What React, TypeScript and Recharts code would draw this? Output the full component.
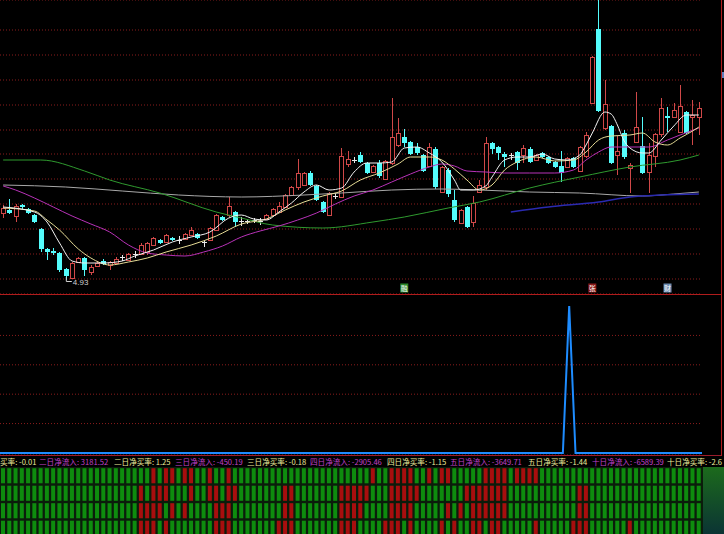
import { ComposedChart, BarChart, Bar, Line, XAxis, YAxis, CartesianGrid, ReferenceDot } from 'recharts';

// daily candles, index 0..111
const opens = [5.60, 5.63, 5.57, 5.68, 5.64, 5.58, 5.44, 5.24, 5.22, 5.20, 5.04, 4.95, 5.11, 5.15, 5.01, 5.07, 5.12, 5.08, 5.10, 5.16,
  5.13, 5.19, 5.19, 5.21, 5.28, 5.33, 5.31, 5.35, 5.33, 5.34, 5.38, 5.39, 5.31, 5.33, 5.43, 5.56, 5.58, 5.61, 5.52, 5.52,
  5.53, 5.52, 5.54, 5.58, 5.61, 5.66, 5.78, 5.86, 5.88, 6.00, 5.87, 5.71, 5.58, 5.77, 5.76, 6.09, 6.13, 6.18, 6.10, 6.01,
  6.10, 5.94, 6.10, 6.28, 6.36, 6.31, 6.26, 6.18, 6.07, 6.24, 5.81, 6.03, 5.73, 5.50, 5.66, 5.51, 5.81, 5.86, 6.30, 6.26,
  6.19, 6.18, 6.21, 6.18, 6.24, 6.13, 6.20, 6.16, 6.11, 6.07, 6.06, 6.15, 6.02, 6.17, 6.70, 7.44, 6.45, 6.47, 6.18, 6.40,
  6.05, 6.31, 6.27, 6.01, 6.17, 6.39, 6.57, 6.56, 6.41, 6.61, 6.56, 6.56];
const closes = [5.65, 5.60, 5.67, 5.66, 5.60, 5.51, 5.24, 5.21, 5.20, 5.03, 4.97, 5.10, 5.15, 5.03, 5.06, 5.10, 5.09, 5.11, 5.14, 5.16,
  5.19, 5.19, 5.28, 5.30, 5.35, 5.30, 5.38, 5.33, 5.33, 5.39, 5.43, 5.35, 5.31, 5.45, 5.58, 5.53, 5.67, 5.51, 5.52, 5.52,
  5.53, 5.52, 5.58, 5.64, 5.67, 5.78, 5.86, 6.00, 6.00, 5.88, 5.73, 5.61, 5.80, 5.77, 6.17, 6.14, 6.13, 6.11, 6.00, 6.07,
  5.97, 6.12, 6.36, 6.40, 6.30, 6.19, 6.20, 6.02, 6.26, 5.86, 6.06, 5.79, 5.53, 5.63, 5.46, 5.70, 5.88, 6.30, 6.24, 6.20,
  6.16, 6.18, 6.10, 6.25, 6.11, 6.18, 6.16, 6.10, 6.06, 6.00, 6.15, 6.06, 6.26, 6.38, 7.16, 6.62, 6.69, 6.10, 6.22, 6.16,
  6.08, 6.46, 6.00, 6.18, 6.39, 6.65, 6.55, 6.63, 6.67, 6.40, 6.58, 6.65];
const highs = [5.68, 5.74, 5.69, 5.69, 5.65, 5.59, 5.45, 5.25, 5.25, 5.21, 5.05, 5.11, 5.16, 5.16, 5.08, 5.12, 5.14, 5.12, 5.16, 5.18,
  5.20, 5.22, 5.30, 5.31, 5.36, 5.34, 5.39, 5.36, 5.37, 5.40, 5.46, 5.40, 5.33, 5.46, 5.59, 5.57, 5.76, 5.62, 5.56, 5.54,
  5.55, 5.55, 5.59, 5.65, 5.71, 5.79, 5.87, 6.14, 6.01, 6.02, 5.88, 5.72, 5.81, 5.80, 6.25, 6.22, 6.16, 6.21, 6.11, 6.08,
  6.13, 6.13, 6.75, 6.55, 6.44, 6.32, 6.30, 6.19, 6.30, 6.26, 6.07, 6.05, 5.83, 5.64, 5.67, 5.77, 5.93, 6.36, 6.31, 6.27,
  6.21, 6.20, 6.22, 6.28, 6.26, 6.19, 6.21, 6.17, 6.12, 6.22, 6.16, 6.16, 6.27, 6.41, 7.17, 7.73, 6.93, 6.48, 6.37, 6.43,
  6.10, 6.81, 6.56, 6.30, 6.40, 6.75, 6.66, 6.70, 6.88, 6.62, 6.73, 6.71];
const lows = [5.55, 5.59, 5.51, 5.64, 5.59, 5.50, 5.21, 5.13, 5.18, 5.01, 4.93, 4.94, 5.10, 4.97, 4.98, 5.06, 5.08, 5.03, 5.09, 5.12,
  5.12, 5.15, 5.18, 5.18, 5.27, 5.29, 5.30, 5.32, 5.29, 5.33, 5.37, 5.34, 5.26, 5.32, 5.42, 5.52, 5.56, 5.46, 5.47, 5.49,
  5.50, 5.48, 5.53, 5.57, 5.60, 5.65, 5.77, 5.83, 5.87, 5.87, 5.72, 5.60, 5.57, 5.74, 5.75, 6.06, 6.10, 6.10, 5.99, 6.00,
  5.95, 5.93, 6.08, 6.26, 6.26, 6.18, 6.18, 6.01, 6.06, 5.84, 5.80, 5.76, 5.51, 5.49, 5.45, 5.46, 5.80, 5.83, 6.19, 6.13,
  6.06, 6.13, 6.03, 6.10, 6.10, 6.12, 6.15, 6.09, 6.05, 5.91, 6.05, 6.05, 6.01, 6.15, 6.69, 6.61, 6.43, 6.09, 5.98, 6.14,
  5.80, 6.30, 5.99, 5.80, 6.06, 6.36, 6.41, 6.55, 6.40, 6.39, 6.28, 6.38];

// moving averages: [day index, price]
const ma5: [number, number][] = [[0, 5.66], [5, 5.61], [7, 5.51], [9, 5.30], [11, 5.12], [13, 5.10], [16, 5.10], [19, 5.12], [21, 5.17],
  [24, 5.23], [27, 5.31], [30, 5.36], [33, 5.41], [36, 5.55], [38, 5.58], [40, 5.54], [42, 5.53], [44, 5.61], [46, 5.70], [48, 5.81],
  [50, 5.88], [52, 5.83], [54, 5.85], [56, 6.01], [58, 6.10], [60, 6.10], [62, 6.11], [64, 6.25], [66, 6.26], [68, 6.20], [70, 6.11],
  [72, 5.93], [73, 5.83], [75, 5.83], [77, 5.87], [78, 5.96], [80, 6.13], [82, 6.16], [84, 6.16], [86, 6.19], [88, 6.14], [90, 6.13],
  [92, 6.18], [93, 6.28], [94, 6.40], [96, 6.61], [97, 6.59], [98, 6.48], [99, 6.33], [100, 6.25], [102, 6.20], [103, 6.20],
  [105, 6.33], [107, 6.47], [109, 6.58], [111, 6.58]];
const ma10: [number, number][] = [[0, 5.65], [5, 5.62], [7, 5.53], [9, 5.43], [12, 5.24], [14, 5.15], [17, 5.08], [20, 5.11], [23, 5.15],
  [26, 5.21], [30, 5.28], [34, 5.37], [38, 5.49], [42, 5.54], [45, 5.63], [48, 5.71], [51, 5.77], [54, 5.82], [57, 5.93], [60, 6.00],
  [63, 6.09], [65, 6.16], [68, 6.16], [70, 6.13], [72, 6.04], [74, 5.93], [76, 5.83], [78, 5.88], [80, 6.03], [82, 6.11], [85, 6.16],
  [88, 6.12], [91, 6.13], [93, 6.21], [95, 6.33], [97, 6.37], [100, 6.38], [102, 6.40], [104, 6.31], [106, 6.28], [108, 6.35],
  [110, 6.42], [111, 6.46]];
const ma30: [number, number][] = [[0, 5.87], [2, 5.83], [5, 5.75], [8, 5.66], [11, 5.57], [14, 5.49], [17, 5.41], [20, 5.28], [23, 5.20],
  [26, 5.18], [29, 5.17], [32, 5.21], [35, 5.27], [38, 5.36], [41, 5.42], [44, 5.47], [47, 5.53], [50, 5.60], [53, 5.69], [56, 5.77],
  [59, 5.83], [62, 5.91], [65, 5.99], [68, 6.06], [70, 6.09], [72, 6.07], [74, 6.02], [77, 6.01], [80, 6.00], [84, 6.00], [88, 6.00],
  [91, 6.03], [93, 6.13], [95, 6.21], [97, 6.26], [100, 6.26], [103, 6.26], [106, 6.33], [108, 6.38], [111, 6.45]];
const ma60: [number, number][] = [[0, 6.13], [6, 6.13], [13, 6.02], [17, 5.93], [25, 5.80], [34, 5.61], [38, 5.55], [43, 5.48], [51, 5.45],
  [59, 5.51], [64, 5.56], [71, 5.65], [76, 5.71], [84, 5.85], [92, 5.96], [100, 6.06], [108, 6.13], [111, 6.18]];
const ma120: [number, number][] = [[0, 5.88], [10, 5.86], [19, 5.82], [28, 5.78], [38, 5.76], [48, 5.78], [54, 5.80], [62, 5.83], [70, 5.84],
  [76, 5.83], [84, 5.81], [92, 5.80], [102, 5.77], [107, 5.79], [111, 5.81]];
const ma250: [number, number][] = [[81, 5.61], [87, 5.66], [95, 5.71], [100, 5.76], [105, 5.78], [111, 5.79]];

const priceGridTicks = [4.94, 5.19, 5.44, 5.69, 5.94, 6.19, 6.43, 6.68, 6.93, 7.18, 7.43];
const lowMark = { day: 10, price: 4.93 };
const tagDays = [64, 94, 106];
const tagTexts = ['融', '张', '财'];

// lower panel: zero except the single spike
const spike: [number, number][] = [[90, 100]];
const lowerTicks = [20, 40, 60, 80];

// bottom strip: days shown red in each of the four rows
const row1Red = [24, 26, 27, 29, 30, 33, 36, 59, 62, 63, 64, 65, 68, 70, 71, 77, 78, 79, 80, 82, 83, 84, 85];
const row2Red = [22, 24, 25, 26, 30, 33, 34, 36, 37, 45, 46, 54, 55, 56, 57, 58, 62, 63, 64, 65, 66, 74, 75, 76, 77, 78, 79, 80, 92, 93];
const row3Red = [22, 23, 24, 25, 27, 29, 34, 35, 36, 45, 46, 54, 55, 56, 57, 62, 63, 64, 65, 71, 73, 75, 76, 77, 78, 79, 80, 92, 93];
const row4Red = [22, 23, 24, 26, 34, 35, 36, 44, 45, 46, 54, 55, 56, 61, 62, 63, 65, 70, 72, 75, 76, 78, 79, 85, 91, 92, 93, 100];

const flowTexts = ['买率: -0.01', '二日净流入: 3181.52', '二日净买率: 1.25', '三日净流入: -450.19', '三日净买率: -0.18',
  '四日净流入: -2905.46', '四日净买率: -1.15', '五日净流入: -3649.71', '五日净买率: -1.44', '十日净流入: -6589.39', '十日净买率: -2.6'];

const textLeft = [0, 39, 114, 175, 247, 310, 387, 450, 528, 592, 667];
const RED = '#d04848';
const CYAN = '#54fcfc';
const GRID = '#8a1c1c';

const n = opens.length;
const toRows = (pts: [number, number][]) => pts.map(([i, v]) => ({ i, v }));

const priceData = opens.map((open, i) => ({ i, open, close: closes[i], high: highs[i], low: lows[i] }));

const spikeMap = new Map(spike);
const lowerData = opens.map((_, i) => ({ i, v: spikeMap.get(i) ?? 0 }));

const stripData = opens.map((_, i) => ({
  i, r1: 1, r2: 1, r3: 1, r4: 1,
  c1: row1Red.includes(i), c2: row2Red.includes(i), c3: row3Red.includes(i), c4: row4Red.includes(i),
}));

const maLines = [
  { key: 'ma120', pts: ma120, color: '#a8a8a8', w: 1 },
  { key: 'ma250', pts: ma250, color: '#2a2ab0', w: 1.5 },
  { key: 'ma60', pts: ma60, color: '#2f9a2f', w: 1 },
  { key: 'ma30', pts: ma30, color: '#b832b8', w: 1 },
  { key: 'ma10', pts: ma10, color: '#e6dc96', w: 1 },
  { key: 'ma5', pts: ma5, color: '#f2f2f2', w: 1 },
];

function Candle(props: any) {
  const { x, y, width, height, payload } = props;
  const { open, close, high, low } = payload;
  const top0 = Math.min(y, y + height);
  const h = Math.abs(height);
  const toY = (v: number) => top0 + ((high - v) / (high - low)) * h;
  const cx = Math.floor(x + width / 2) + 0.5;
  const left = Math.round(x);
  const w = Math.round(width);
  const bTop = toY(Math.max(open, close));
  const bBot = toY(Math.min(open, close));
  if (close > open) {
    return (
      <g>
        <line x1={cx} x2={cx} y1={toY(high)} y2={bTop} stroke={RED} />
        <line x1={cx} x2={cx} y1={bBot} y2={toY(low)} stroke={RED} />
        <rect x={left + 0.5} y={Math.round(bTop) + 0.5} width={w - 1} height={Math.max(Math.round(bBot - bTop), 1)} fill="#000" stroke={RED} />
      </g>
    );
  }
  if (close < open) {
    return (
      <g>
        <line x1={cx} x2={cx} y1={toY(high)} y2={toY(low)} stroke={CYAN} />
        <rect x={left} y={bTop} width={w} height={Math.max(bBot - bTop, 1)} fill={CYAN} />
      </g>
    );
  }
  return (
    <g>
      <line x1={cx} x2={cx} y1={toY(high)} y2={toY(low)} stroke="#e8e8e8" />
      <line x1={left} x2={left + w} y1={Math.round(bTop) + 0.5} y2={Math.round(bTop) + 0.5} stroke="#e8e8e8" />
    </g>
  );
}

const makeCell = (key: string) => (props: any) => {
  const { x, y, width, height, payload } = props;
  return <rect x={x} y={y + 1.2} width={width} height={height - 2.4} fill={payload[key] ? '#a80e0e' : '#0e8c0e'} />;
};

const tagColors = ['#2a8a2a', '#8a1a1a', '#6a8ab0'];

export default function App() {
  return (
    <div style={{ position: 'fixed', left: 0, top: 0, width: 724, height: 534, background: '#000', overflow: 'hidden', fontFamily: "'Noto Sans CJK SC', sans-serif" }}>
      <div style={{ position: 'absolute', left: 0, top: 0 }}>
        <ComposedChart width={724} height={294} data={priceData} margin={{ top: 0, right: 22, bottom: 0, left: 0 }}>
          <CartesianGrid vertical={false} stroke={GRID} strokeDasharray="1 2" />
          <XAxis dataKey="i" type="number" domain={[-0.5, n - 0.5]} hide />
          <YAxis hide domain={[4.79, 7.73]} ticks={priceGridTicks} allowDataOverflow />
          <Bar dataKey={(d: any) => [d.low, d.high]} barSize={5} shape={<Candle />} isAnimationActive={false} />
          {maLines.map((m) => (
            <Line key={m.key} data={toRows(m.pts)} dataKey="v" type="monotone" stroke={m.color} strokeWidth={m.w}
              dot={false} activeDot={false} isAnimationActive={false} />
          ))}
          <ReferenceDot x={lowMark.day} y={lowMark.price} r={0} ifOverflow="visible"
            shape={(p: any) => (
              <g>
                <polyline points={`${p.cx + 0.5},${p.cy - 3} ${p.cx + 0.5},${p.cy + 1.5} ${p.cx + 6},${p.cy + 1.5}`} fill="none" stroke="#d0d0d0" />
                <text x={p.cx + 7} y={p.cy + 4.5} fill="#d0d0d0" fontSize={8} fontFamily="Liberation Sans, sans-serif">{lowMark.price.toFixed(2)}</text>
              </g>
            )} />
          {tagDays.map((d, k) => (
            <ReferenceDot key={d} x={d} y={4.85} r={0} ifOverflow="visible"
              shape={(p: any) => (
                <g>
                  <rect x={p.cx - 4} y={p.cy - 4.5} width={8} height={9} fill={tagColors[k]} />
                  <text x={p.cx} y={p.cy + 3} fill="#fff" fontSize={7} textAnchor="middle">{tagTexts[k]}</text>
                </g>
              )} />
          ))}
        </ComposedChart>
      </div>
      <div style={{ position: 'absolute', left: 0, top: 294 }}>
        <ComposedChart width={724} height={161} data={lowerData} margin={{ top: 0, right: 22, bottom: 0, left: 0 }}>
          <CartesianGrid vertical={false} stroke={GRID} strokeDasharray="1 2" />
          <XAxis dataKey="i" hide />
          <YAxis hide domain={[-1.4, 108.2]} ticks={lowerTicks} />
          <Line dataKey="v" type="linear" stroke="#1e8cff" strokeWidth={2} dot={false} activeDot={false} isAnimationActive={false} />
        </ComposedChart>
      </div>
      <div style={{ position: 'absolute', left: 0, top: 294, width: 722, height: 1, background: '#b01c1c' }} />
      <div style={{ position: 'absolute', left: 0, top: 455, width: 722, height: 1, background: '#9a1c2c' }} />
      <div style={{ position: 'absolute', left: 721, top: 0, width: 1, height: 456, background: '#b01c1c' }} />
      <div style={{ position: 'absolute', left: 722, top: 72, width: 2, height: 6, background: '#6080c0' }} />
      <div style={{ position: 'absolute', left: 0, top: 456, width: 724, height: 11, fontSize: 7.6, lineHeight: '11px', whiteSpace: 'pre', overflow: 'hidden' }}>
        {flowTexts.map((t, k) => (
          <span key={k} style={{ position: 'absolute', left: textLeft[k], color: t.includes('流入') ? '#c040c8' : '#ecec9c' }}>{t}</span>
        ))}
      </div>
      <div style={{ position: 'absolute', left: 0, top: 467, width: 703, height: 67, background: '#0b1c0b' }} />
      <div style={{ position: 'absolute', left: 703, top: 467, width: 21, height: 67, background: 'linear-gradient(#1c6a1c, #0b3434)' }} />
      <div style={{ position: 'absolute', left: 0, top: 467 }}>
        <BarChart width={724} height={70} data={stripData} margin={{ top: 0, right: 22, bottom: 0, left: 0 }} barCategoryGap={1}>
          <XAxis dataKey="i" hide />
          <YAxis hide domain={[0, 4]} />
          <Bar dataKey="r4" stackId="s" shape={makeCell('c4')} isAnimationActive={false} />
          <Bar dataKey="r3" stackId="s" shape={makeCell('c3')} isAnimationActive={false} />
          <Bar dataKey="r2" stackId="s" shape={makeCell('c2')} isAnimationActive={false} />
          <Bar dataKey="r1" stackId="s" shape={makeCell('c1')} isAnimationActive={false} />
        </BarChart>
      </div>
    </div>
  );
}
